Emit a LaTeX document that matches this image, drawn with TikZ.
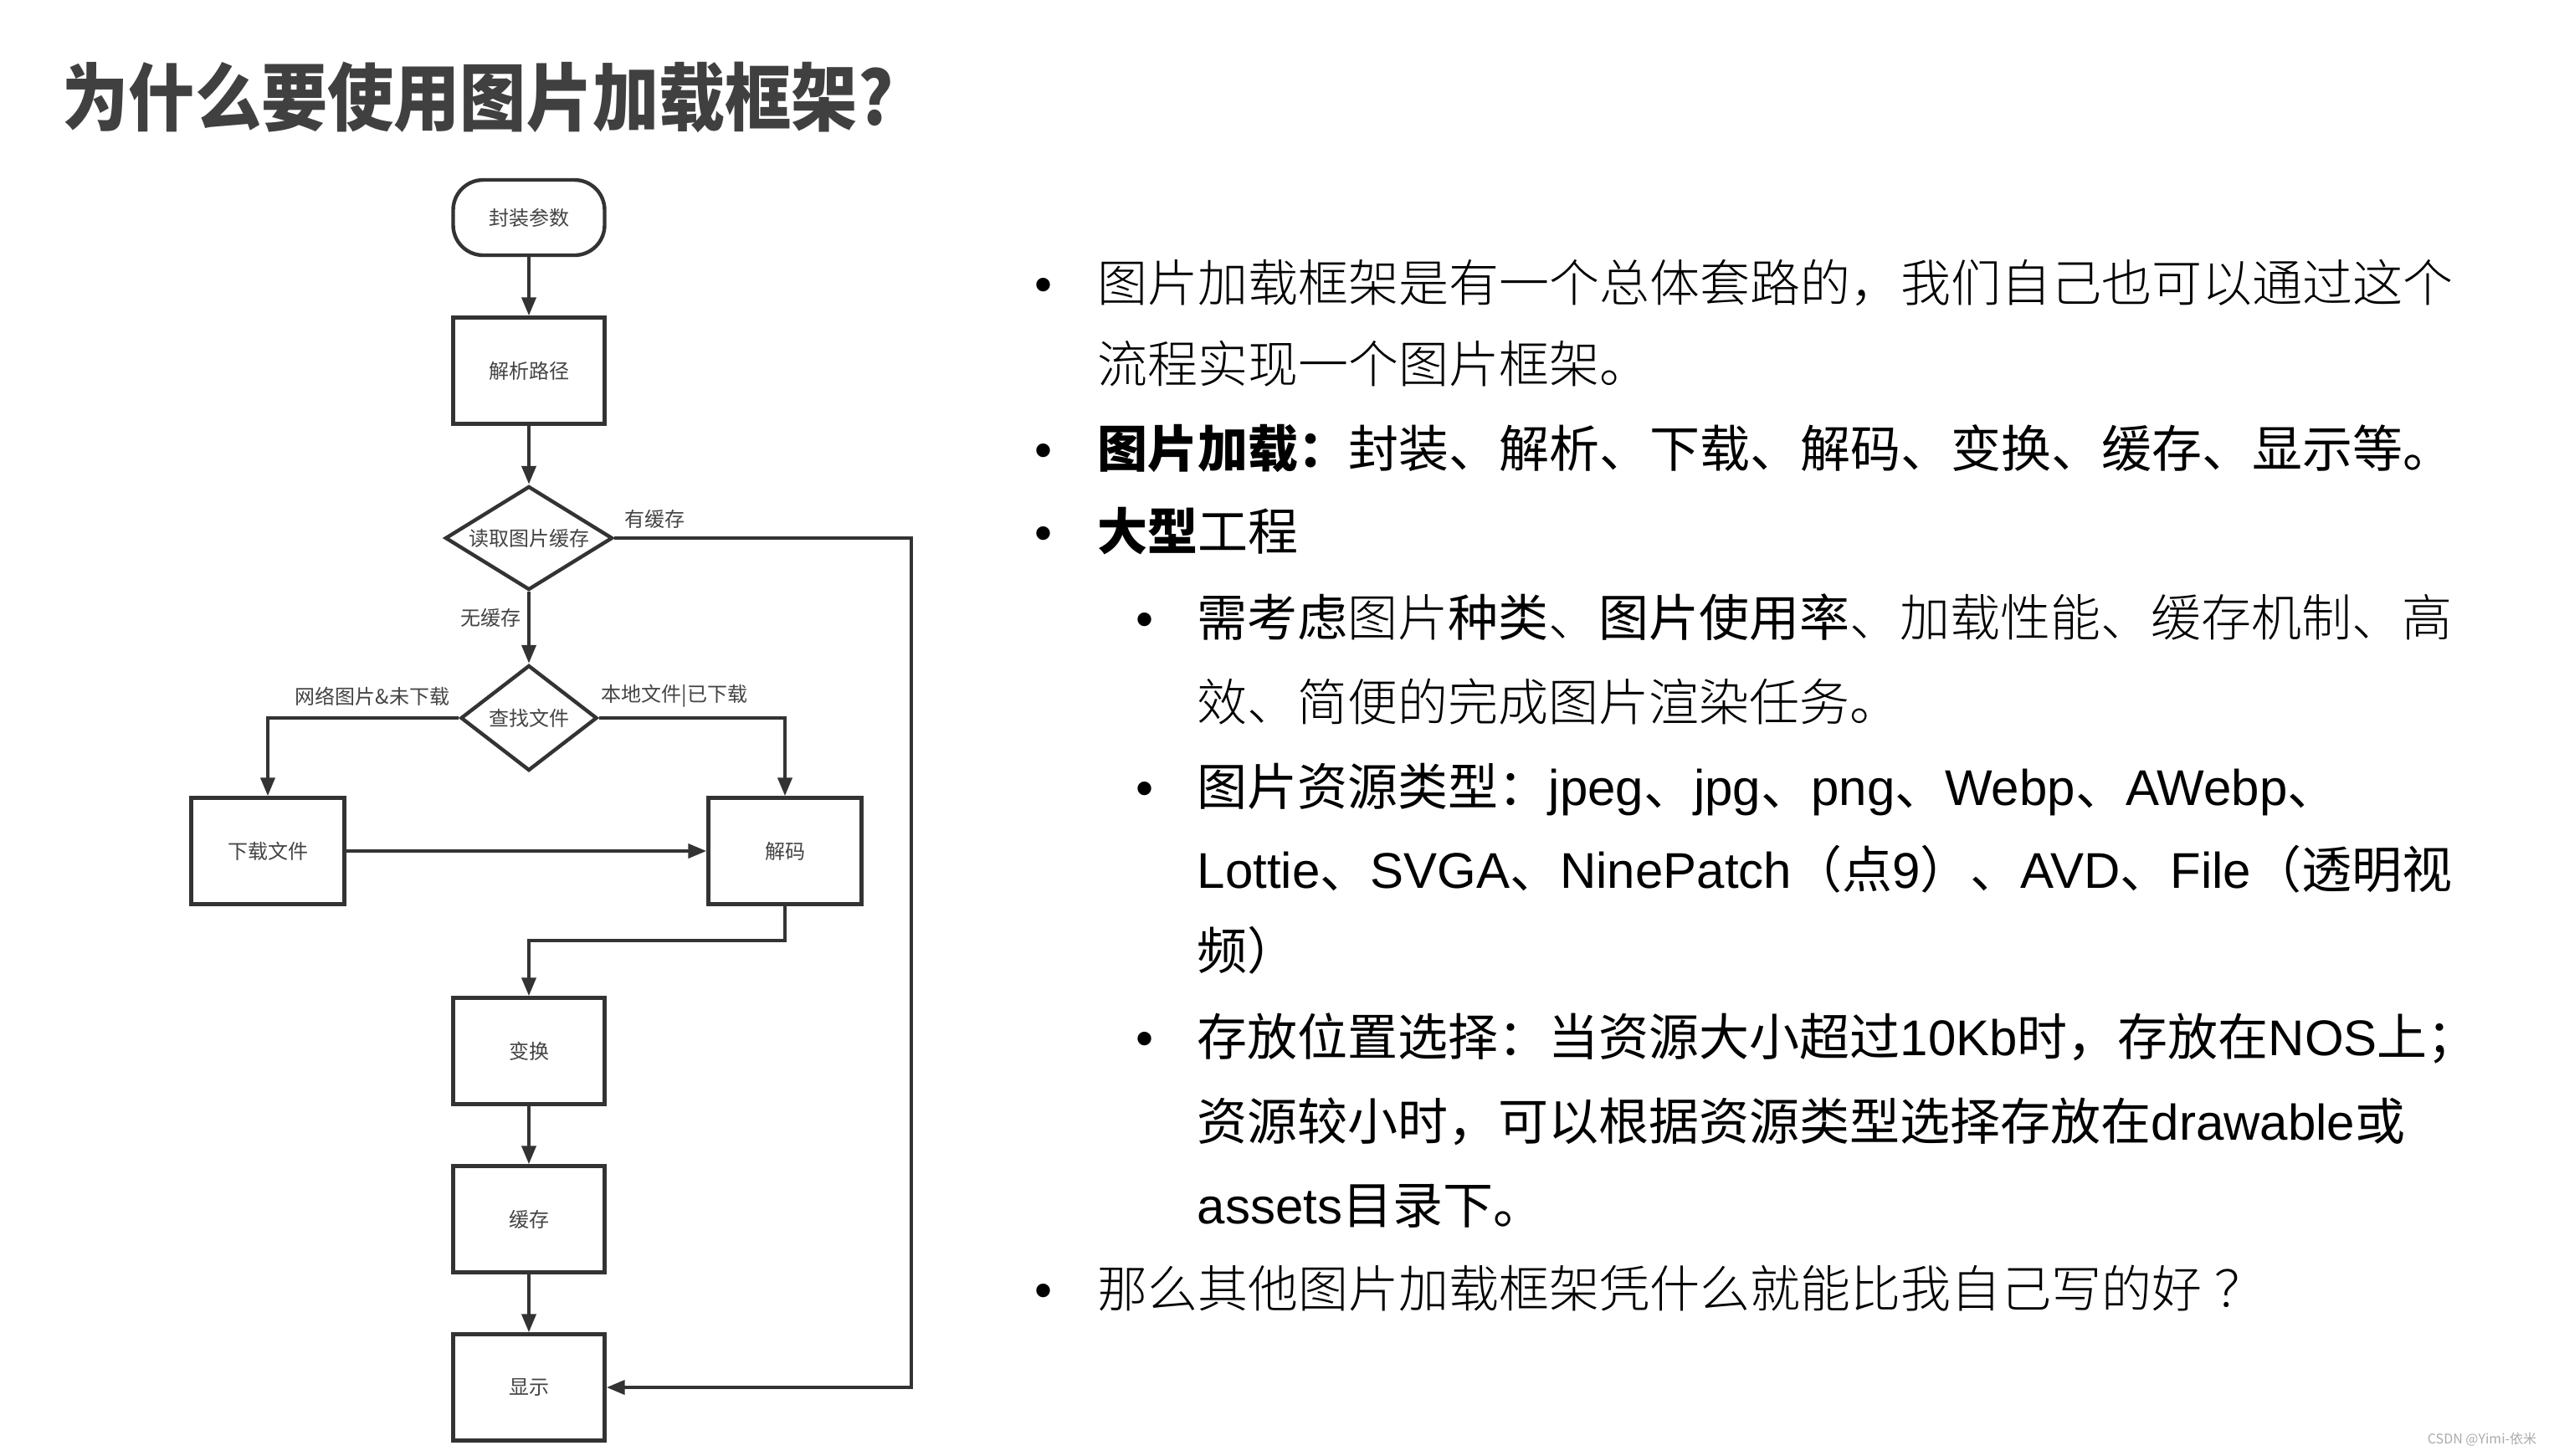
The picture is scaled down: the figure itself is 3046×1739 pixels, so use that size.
\documentclass[tikz,border=0pt]{standalone}
\usepackage{fontspec}
\setmainfont{Liberation Sans}
\newfontfamily\cjk{Noto Sans CJK SC}
\newfontfamily\lat{Liberation Sans}
\IfFontExistsTF{Noto Sans CJK SC Light}{\newfontfamily\cjkl{Noto Sans CJK SC Light}}{\newfontfamily\cjkl{Noto Sans CJK SC}}
\IfFontExistsTF{Noto Sans CJK SC Black}{\newfontfamily\cjkh{Noto Sans CJK SC Black}}{\newfontfamily\cjkh{Noto Sans CJK SC}[FakeBold=0]\def\cjkhb{\bfseries}}
\providecommand\cjkhb{}
\usetikzlibrary{shapes.geometric,arrows.meta}
\definecolor{ttl}{HTML}{404040}
\definecolor{ln}{HTML}{333333}
\definecolor{fc}{HTML}{444444}
\definecolor{wm}{HTML}{AAAAAA}
\tikzset{
 flow/.style={draw=ln, line width=1.1pt, fill=white, inner sep=0pt, font=\cjk\fontsize{6}{7}\selectfont, text=fc},
 procbox/.style={flow, rectangle, minimum width=45.25pt, minimum height=31.75pt},
 termbox/.style={flow, rectangle, rounded corners=9pt, minimum width=45.25pt, minimum height=22.5pt},
 decbox/.style={flow, diamond},
 conn/.style={draw=ln, line width=1.1pt, -{Triangle[length=5.5pt,width=4.2pt]}},
 flab/.style={font=\cjk\fontsize{6}{7}\selectfont, text=fc, inner sep=0pt},
 bodyl/.style={anchor=base west, inner sep=0pt, font=\fontsize{15}{18}\selectfont, text=black},
 blt/.style={anchor=base, inner sep=0pt, font=\lat\fontsize{15}{18}\selectfont, text=black},
}
\begin{document}
\begin{tikzpicture}[x=0.25pt,y=-0.25pt]
\fill[white] (0,0) rectangle (3046,1739);
\path[use as bounding box] (0,0) rectangle (3046,1739);

% title
\node[anchor=base west, inner sep=0pt, font=\cjk\bfseries\fontsize{22}{26}\selectfont, text=ttl] (title) at (74,149) {\scalebox{0.9}[1]{为什么要使用图片加载框架?}};

% flowchart
\node[termbox] (fz) at (632,260) {封装参数};
\node[procbox] (jx) at (632,443) {解析路径};
\node[decbox, aspect=1.7, minimum width=50pt, minimum height=31pt] (d1) at (632,643) {读取图片缓存};
\node[decbox, aspect=1.4, minimum width=40.75pt, minimum height=31.5pt] (d2) at (632,858) {查找文件};
\node[procbox, minimum width=45.75pt] (xz) at (320,1017) {下载文件};
\node[procbox, minimum width=45.75pt] (jm) at (938,1017) {解码};
\node[procbox] (bh) at (632,1256) {变换};
\node[procbox] (hc) at (632,1457) {缓存};
\node[procbox] (xs) at (632,1658) {显示};

\coordinate (rx) at (1089,1000);
\coordinate (e1) at (938,1124);

\draw[conn] (fz) -- (jx);
\draw[conn] (jx) -- (d1);
\draw[conn] (d1) -- (d2);
\draw[conn] (d1.east) -| (rx) |- (xs.east);
\draw[conn] (d2.west) -| (xz.north);
\draw[conn] (d2.east) -| (jm.north);
\draw[conn] (xz) -- (jm);
\draw[conn] (jm.south) -- (e1) -| (bh.north);
\draw[conn] (bh) -- (hc);
\draw[conn] (hc) -- (xs);

\node[flab] (l1) at (782,620) {有缓存};
\node[flab] (l2) at (586,738) {无缓存};
\node[flab] (l3) at (445,832) {网络图片\&未下载};
\node[flab] (l4) at (806,832) {本地文件|已下载};

% bullets
\node[blt] (b1) at (1247,360) {•};
\node[blt] (b2) at (1247,558) {•};
\node[blt] (b3) at (1247,657) {•};
\node[blt] (s1) at (1368,760) {•};
\node[blt] (s2) at (1368,962) {•};
\node[blt] (s3) at (1368,1261) {•};
\node[blt] (b4) at (1247,1562) {•};

% text lines
\node[bodyl] (t1) at (1311,360) {\cjkl 图片加载框架是有一个总体套路的，我们自己也可以通过这个};
\node[bodyl] (t2) at (1311,457) {\cjkl 流程实现一个图片框架。};
\node[bodyl] (t3) at (1311,558) {{\cjk\bfseries 图片加载：}{\cjk 封装、解析、下载、解码、变换、缓存、显示等。}};
\node[bodyl] (t4) at (1311,657) {{\cjk\bfseries 大型}{\cjk 工程}};
\node[bodyl] (t5) at (1430,760) {{\cjk 需考虑}{\cjkl 图片}{\cjk 种类}{\cjkl 、}{\cjk 图片使用率}{\cjkl 、加载性能、缓存机制、高}};
\node[bodyl] (t6) at (1430,861) {\cjkl 效、简便的完成图片渲染任务。};
\node[bodyl] (t7) at (1430,962) {{\cjk 图片资源类型：}{\lat jpeg}{\cjk 、}{\lat jpg}{\cjk 、}{\lat png}{\cjk 、}{\lat Webp}{\cjk 、}{\lat AWebp}{\cjk 、}};
\node[bodyl] (t8) at (1430,1061) {{\lat Lottie}{\cjk 、}{\lat SVGA}{\cjk 、}{\lat NinePatch}{\cjk （点}{\lat 9}{\cjk ）、}{\lat AVD}{\cjk 、}{\lat File}{\cjk （透明视}};
\node[bodyl] (t9) at (1430,1158) {\cjk 频）};
\node[bodyl] (t10) at (1430,1261) {{\cjk 存放位置选择：当资源大小超过}{\lat 10Kb}{\cjk 时，存放在}{\lat NOS}{\cjk 上；}};
\node[bodyl] (t11) at (1430,1362) {{\cjk 资源较小时，可以根据资源类型选择存放在}{\lat drawable}{\cjk 或}};
\node[bodyl] (t12) at (1430,1462) {{\lat assets}{\cjk 目录下。}};
\node[bodyl] (t13) at (1311,1562) {\cjkl 那么其他图片加载框架凭什么就能比我自己写的好\hspace{0.25em}？};

% watermark
\node[anchor=east, inner sep=0pt, font=\cjk\fontsize{4}{5}\selectfont, text=wm] (wmk) at (3032,1720) {CSDN @Yimi-依米};
\end{tikzpicture}
\end{document}
